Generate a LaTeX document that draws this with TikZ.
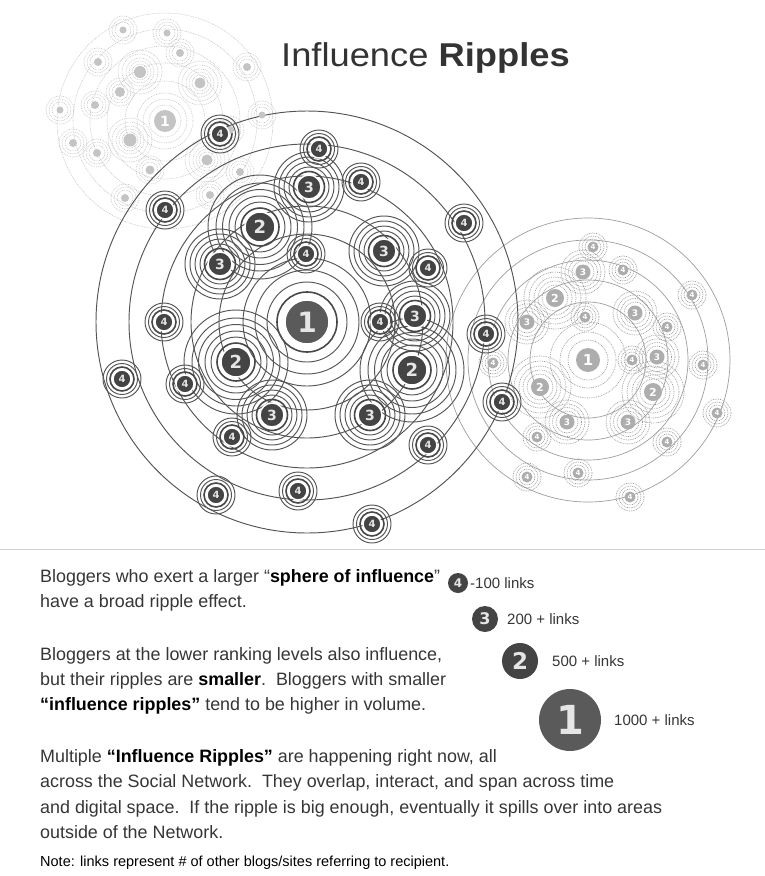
\documentclass[tikz,border=0pt]{standalone}
\usepackage{fontspec}
\setmainfont{Liberation Sans}
\newfontfamily\titlefont[FakeStretch=1.1]{Liberation Sans}
\newfontfamily\numfont{DejaVu Sans}
\pgfdeclarelayer{paper}
\pgfdeclarelayer{faint}
\pgfdeclarelayer{rings}
\pgfsetlayers{paper,faint,rings,main}
\definecolor{ringc}{HTML}{555555}
\definecolor{discc}{HTML}{444444}
\definecolor{discone}{HTML}{5A5A5A}
\definecolor{fainta}{HTML}{9E9E9E}
\definecolor{faintb}{HTML}{C4C4C4}
\definecolor{txt}{HTML}{363636}
\begin{document}
\begin{tikzpicture}[x=1pt,y=-1pt,
  ring/.style={draw=ringc, line width=0.95pt},
  thickring/.style={draw=ringc!85!black, line width=1.6pt},
  fring/.style={draw=fainta, line width=0.65pt, dash pattern=on 0.9pt off 0.9pt},
  bigfring/.style={draw=fainta, line width=0.7pt},
  gring/.style={draw=faintb, line width=0.55pt, dash pattern=on 0.9pt off 0.9pt},
  disc/.style={circle, fill=discc, draw=white, line width=1.5pt, inner sep=0pt, text=white!90!black},
  dfour/.style={disc, minimum size=18pt, font=\numfont\bfseries\fontsize{10}{10}\selectfont},
  dthree/.style={disc, minimum size=24pt, font=\numfont\bfseries\fontsize{14}{14}\selectfont},
  dtwo/.style={disc, minimum size=30pt, font=\numfont\bfseries\fontsize{18}{18}\selectfont},
  done/.style={disc, fill=discone, minimum size=44pt, font=\numfont\bfseries\fontsize{28}{28}\selectfont},
  fdisc/.style={circle, fill=fainta!85, inner sep=0pt, text=white, font=\numfont\bfseries\fontsize{8}{8}\selectfont},
  gdisc/.style={circle, fill=faintb, inner sep=0pt, text=white, font=\numfont\bfseries\fontsize{7}{7}\selectfont},
  body/.style={anchor=base west, inner sep=0pt, text=txt, font=\fontsize{17.9}{20}\selectfont},
  legtxt/.style={anchor=west, inner sep=0pt, text=txt, font=\fontsize{15}{16}\selectfont},
  legdisc/.style={circle, fill=discc, inner sep=0pt, text=white!90!black},
]
\useasboundingbox (0,0) rectangle (765,876);
\begin{pgfonlayer}{paper}
  \fill[white] (0,0) rectangle (765,876);
\end{pgfonlayer}

% ---------- faint top-left network ----------
\node[gdisc, minimum size=22pt, font=\numfont\bfseries\fontsize{14}{14}\selectfont] (g0) at (165,121) {1};
\foreach \i/\px/\py/\s in {1/140/72/12, 2/120/92/10, 3/130/140/13, 4/200/83/11, 5/180/53/8, 6/123/30/7,
  7/167/33/7, 8/207/160/11, 9/98/62/8, 10/247/67/8, 11/73/143/8, 12/97/153/8, 13/150/170/9,
  14/230/130/8, 15/210/195/8, 16/125/198/8, 17/95/105/8, 18/60/110/7, 19/262/115/7, 20/240/172/8}
  \node[gdisc, minimum size=\s pt] (g\i) at (\px,\py) {};
\begin{pgfonlayer}{faint}
  \foreach \r in {16,22,28,40,58,75,92,108} \draw[gring] (g0.center) circle[radius=\r pt];
  \foreach \i in {1,...,20} \foreach \r in {8,11,14} \draw[gring] (g\i.center) circle[radius=\r pt];
  \foreach \i in {1,3,4,8} \foreach \r in {18,22} \draw[gring] (g\i.center) circle[radius=\r pt];
\end{pgfonlayer}

% ---------- faint right network ----------
\node[fdisc, minimum size=24pt, font=\numfont\bfseries\fontsize{15}{15}\selectfont] (r0) at (588,360) {1};
\foreach \i/\px/\py in {1/555/298, 2/540/387, 3/653/392}
  \node[fdisc, minimum size=18pt, font=\numfont\bfseries\fontsize{11}{11}\selectfont] (rt\i) at (\px,\py) {2};
\foreach \i/\px/\py in {1/583/272, 2/635/313, 3/527/322, 4/657/357, 5/567/422, 6/628/422}
  \node[fdisc, minimum size=15pt, font=\numfont\bfseries\fontsize{9}{9}\selectfont] (rh\i) at (\px,\py) {3};
\foreach \i/\px/\py in {1/593/247, 2/623/270, 3/692/295, 4/585/317, 5/667/327, 6/632/360, 7/703/365,
  8/717/413, 9/667/442, 10/537/437, 11/527/477, 12/578/473, 13/630/497, 14/493/363}
  \node[fdisc, minimum size=11pt, font=\numfont\bfseries\fontsize{7}{7}\selectfont] (rf\i) at (\px,\py) {4};
\begin{pgfonlayer}{faint}
  \foreach \r in {20,28,38} \draw[fring] (r0.center) circle[radius=\r pt];
  \foreach \r in {58,80,100,120,142} \draw[bigfring] (r0.center) circle[radius=\r pt];
  \foreach \i in {1,2,3} \foreach \r in {13,17,21,26,31} \draw[fring] (rt\i.center) circle[radius=\r pt];
  \foreach \i in {1,...,6} \foreach \r in {11,14.5,18,22} \draw[fring] (rh\i.center) circle[radius=\r pt];
  \foreach \i in {1,...,14} \foreach \r in {8,11,14} \draw[fring] (rf\i.center) circle[radius=\r pt];
\end{pgfonlayer}

% ---------- main network ----------
\node[done] (m1) at (307,322) {1};
\foreach \i/\px/\py in {1/260/227, 2/236/362, 3/412/370}
  \node[dtwo] (c\i) at (\px,\py) {2};
\foreach \i/\px/\py in {1/309/187, 2/220/264, 3/384/251, 4/415/316, 5/272/415, 6/370/415}
  \node[dthree] (b\i) at (\px,\py) {3};
\foreach \i/\px/\py in {1/220/134, 2/319/149, 3/165/210, 4/361/182, 5/464/223, 6/306/254,
  7/428/268, 8/380/322, 9/164/322, 10/122/379, 11/185/384, 12/232/437, 13/216/495,
  14/298/491, 15/428/445, 16/372/524, 17/486/334, 18/502/402}
  \node[dfour] (a\i) at (\px,\py) {4};
\begin{pgfonlayer}{rings}
  \draw[thickring] (m1.center) circle[radius=30pt];
  \foreach \r in {40,52,64,88,116,146,178,211} \draw[ring] (m1.center) circle[radius=\r pt];
  \foreach \i in {1,2,3} {
    \draw[thickring] (c\i.center) circle[radius=19pt];
    \foreach \r in {25,31,37.5,44,52} \draw[ring] (c\i.center) circle[radius=\r pt];
  }
  \foreach \i in {1,...,6} {
    \draw[thickring] (b\i.center) circle[radius=15.5pt];
    \foreach \r in {20,25,30,35} \draw[ring] (b\i.center) circle[radius=\r pt];
  }
  \foreach \i in {1,...,18} {
    \draw[thickring] (a\i.center) circle[radius=12pt];
    \foreach \r in {15.5,19} \draw[ring] (a\i.center) circle[radius=\r pt];
  }
\end{pgfonlayer}

% ---------- title ----------
\node[anchor=base west, inner sep=0pt, text=black!80, font=\titlefont\fontsize{33}{36}\selectfont] (title) at (281,66) {Influence \textbf{Ripples}};

% ---------- separator ----------
\draw[draw=black!18, line width=0.8pt] (0,549) -- (765,549);

% ---------- text ----------
\node[body] (p1) at (40,582) {Bloggers who exert a larger “\textbf{\color{black}sphere of influence}”};
\node[body] (p2) at (40,607) {have a broad ripple effect.};
\node[body] (p3) at (40,660) {Bloggers at the lower ranking levels also influence,};
\node[body] (p4) at (40,685) {but their ripples are \textbf{\color{black}smaller}.\ \ Bloggers with smaller};
\node[body] (p5) at (40,710) {\textbf{\color{black}“influence ripples”} tend to be higher in volume.};
\node[body] (p6) at (40,762) {Multiple \textbf{\color{black}“Influence Ripples”} are happening right now, all};
\node[body] (p7) at (40,787) {across the Social Network.\ \ They overlap, interact, and span across time};
\node[body] (p8) at (40,813) {and digital space.\ \ If the ripple is big enough, eventually it spills over into areas};
\node[body] (p9) at (40,838) {outside of the Network.};
\node[body, font=\fontsize{14.5}{16}\selectfont, text=black] (note) at (40,866) {Note: links represent \# of other blogs/sites referring to recipient.};

% ---------- legend ----------
\node[legdisc, minimum size=20pt, font=\numfont\bfseries\fontsize{12}{12}\selectfont] (k4) at (458,583) {4};
\node[legdisc, minimum size=26pt, font=\numfont\bfseries\fontsize{16}{16}\selectfont] (k3) at (485,619) {3};
\node[legdisc, minimum size=36pt, font=\numfont\bfseries\fontsize{23}{23}\selectfont] (k2) at (520,661) {2};
\node[legdisc, fill=discone, minimum size=62pt, font=\numfont\bfseries\fontsize{40}{40}\selectfont] (k1) at (570,720) {1};
\node[legtxt] (l4) at (470,583) {-100 links};
\node[legtxt] (l3) at (507,619) {200 + links};
\node[legtxt] (l2) at (552,661) {500 + links};
\node[legtxt] (l1) at (614,720) {1000 + links};
\end{tikzpicture}
\end{document}
